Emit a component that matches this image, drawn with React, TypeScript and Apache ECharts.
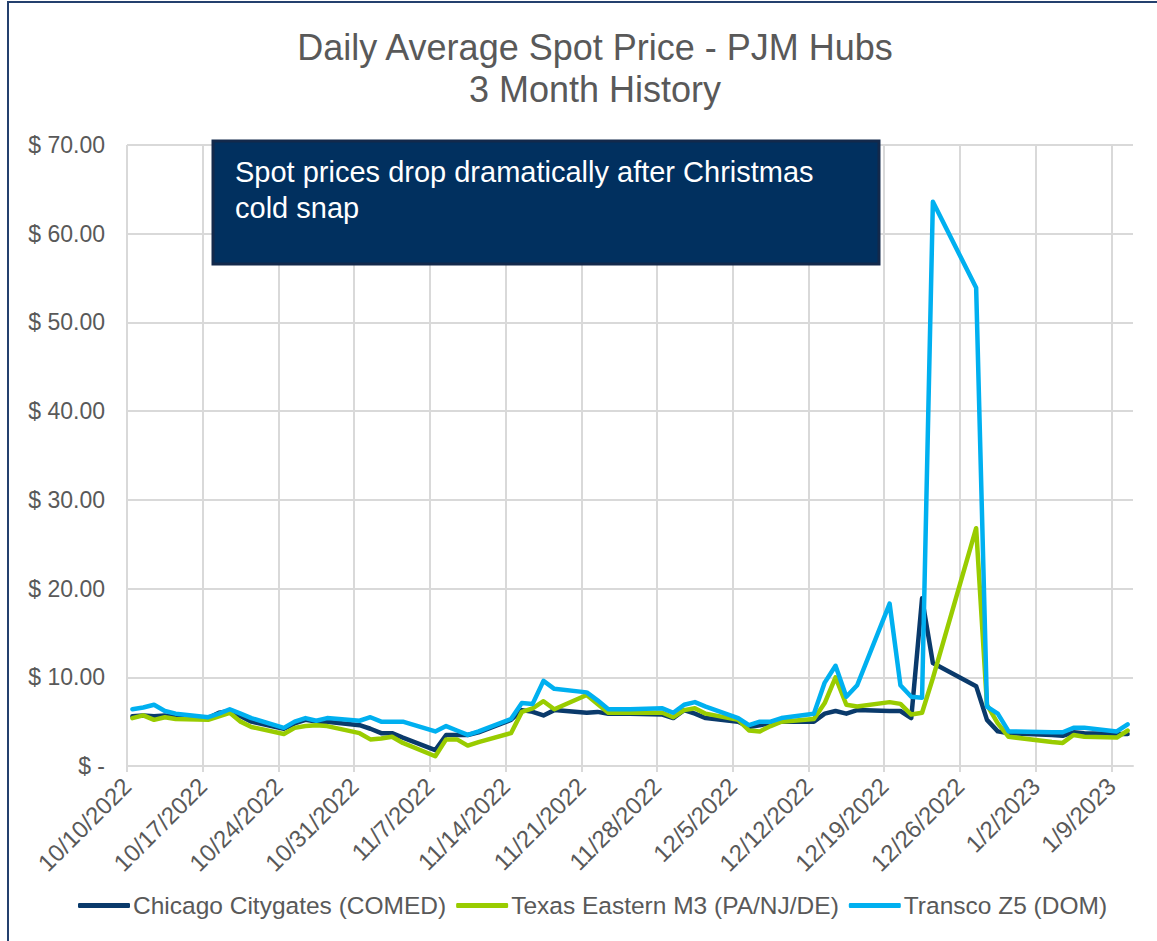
import { useEffect, useRef } from "react";
import * as echarts from "echarts";

const START_DATE = "2022-10-10";

const dates = [
  "2022-10-10", "2022-10-11", "2022-10-12", "2022-10-13", "2022-10-14",
  "2022-10-17", "2022-10-18", "2022-10-19", "2022-10-20", "2022-10-21",
  "2022-10-24", "2022-10-25", "2022-10-26", "2022-10-27", "2022-10-28",
  "2022-10-31", "2022-11-01", "2022-11-02", "2022-11-03", "2022-11-04",
  "2022-11-07", "2022-11-08", "2022-11-09", "2022-11-10", "2022-11-11",
  "2022-11-14", "2022-11-15", "2022-11-16", "2022-11-17", "2022-11-18",
  "2022-11-21", "2022-11-22", "2022-11-23", "2022-11-25",
  "2022-11-28", "2022-11-29", "2022-11-30", "2022-12-01", "2022-12-02",
  "2022-12-05", "2022-12-06", "2022-12-07", "2022-12-08", "2022-12-09",
  "2022-12-12", "2022-12-13", "2022-12-14", "2022-12-15", "2022-12-16",
  "2022-12-19", "2022-12-20", "2022-12-21", "2022-12-22", "2022-12-23",
  "2022-12-27", "2022-12-28", "2022-12-29", "2022-12-30",
  "2023-01-03", "2023-01-04", "2023-01-05", "2023-01-06",
  "2023-01-09", "2023-01-10",
];

const chicagoCitygates = [
  5.6, 5.7, 5.6, 5.7, 5.5,
  5.4, 6.0, 6.2, 5.6, 5.0,
  4.2, 4.8, 5.2, 5.0, 5.0,
  4.6, 4.2, 3.7, 3.7, 3.2,
  1.8, 3.5, 3.5, 3.5, 3.8,
  5.2, 6.3, 6.1, 5.7, 6.3,
  6.0, 6.1, 5.9, 5.9,
  5.8, 5.4, 6.3, 5.9, 5.4,
  5.0, 4.4, 4.6, 4.8, 5.0,
  5.0, 5.9, 6.2, 5.9, 6.3,
  6.2, 6.2, 5.4, 18.9, 11.6,
  9.0, 5.2, 3.9, 3.7,
  3.5, 3.4, 3.8, 3.7,
  3.6, 3.6,
];

const texasEasternM3 = [
  5.4, 5.7, 5.2, 5.5, 5.3,
  5.2, 5.6, 6.0, 5.0, 4.4,
  3.6, 4.3, 4.5, 4.6, 4.5,
  3.7, 3.0, 3.1, 3.3, 2.6,
  1.1, 3.0, 3.0, 2.3, 2.7,
  3.7, 6.1, 6.5, 7.3, 6.4,
  8.0, 7.0, 6.0, 6.0,
  6.0, 5.5, 6.3, 6.5, 5.9,
  5.2, 4.0, 3.9, 4.5, 5.0,
  5.3, 7.1, 10.0, 6.9, 6.7,
  7.2, 7.0, 5.8, 6.0, 9.9,
  26.8, 6.9, 4.8, 3.3,
  2.7, 2.6, 3.5, 3.3,
  3.2, 4.0,
];

const transcoZ5 = [
  6.4, 6.6, 6.9, 6.2, 5.9,
  5.5, 5.9, 6.4, 5.9, 5.4,
  4.3, 5.0, 5.4, 5.1, 5.4,
  5.1, 5.5, 5.0, 5.0, 5.0,
  3.9, 4.5, 4.0, 3.5, 3.9,
  5.3, 7.1, 7.0, 9.6, 8.7,
  8.3, 7.4, 6.4, 6.4,
  6.5, 6.0, 6.9, 7.2, 6.7,
  5.4, 4.6, 5.0, 5.0, 5.4,
  5.9, 9.4, 11.3, 7.8, 9.1,
  18.3, 9.1, 7.8, 7.7, 63.6,
  53.9, 6.7, 5.9, 3.9,
  3.8, 3.8, 4.3, 4.3,
  3.9, 4.7,
];

const seriesNames = [
  "Chicago Citygates (COMED)",
  "Texas Eastern M3 (PA/NJ/DE)",
  "Transco Z5 (DOM)",
];
const seriesColors = ["#0A3A6B", "#99CC00", "#00B0F0"];

const titleText = "Daily Average Spot Price - PJM Hubs\n3 Month History";
const noteText = "Spot prices drop dramatically after Christmas\ncold snap";

const DAY_MS = 86400000;
function toUTC(s: string) {
  const [y, m, d] = s.split("-").map(Number);
  return Date.UTC(y, m - 1, d);
}
const startMs = toUTC(START_DATE);
function dayIndex(s: string) {
  return Math.round((toUTC(s) - startMs) / DAY_MS);
}
function fmtDay(v: number) {
  const dt = new Date(startMs + Math.round(v) * DAY_MS);
  return `${dt.getUTCMonth() + 1}/${dt.getUTCDate()}/${dt.getUTCFullYear()}`;
}

const FONT = "'Liberation Sans', Arial, sans-serif";
const GRAY_TEXT = "#595959";
const GRID_GRAY = "#D9D9D9";

export default function App() {
  const ref = useRef<HTMLDivElement>(null);
  useEffect(() => {
    if (!ref.current) return;
    const chart = echarts.init(ref.current, null, { renderer: "svg" });
    const seriesData = [chicagoCitygates, texasEasternM3, transcoZ5];
    // each day occupies one slot on the date axis; points sit in the slot centre
    const maxDay = dayIndex(dates[dates.length - 1]) + 1;
    chart.setOption({
      animation: false,
      backgroundColor: "#ffffff",
      textStyle: { fontFamily: FONT },
      title: {
        text: titleText,
        left: 590,
        top: 21,
        textAlign: "center",
        textStyle: {
          fontFamily: FONT,
          fontSize: 36,
          fontWeight: "normal",
          color: GRAY_TEXT,
          lineHeight: 42,
        },
      },
      legend: {
        data: seriesNames,
        left: 78,
        top: 893,
        icon: "roundRect",
        itemWidth: 52,
        itemHeight: 5,
        itemGap: 10,
        padding: 0,
        textStyle: { fontFamily: FONT, fontSize: 24.5, color: GRAY_TEXT, padding: [0, 0, 0, -2] },
      },
      grid: { left: 127, right: 24, top: 145, bottom: 175, outerBoundsMode: "none" },
      xAxis: {
        type: "value",
        min: 0,
        max: maxDay,
        interval: 7,
        axisLine: { show: true, lineStyle: { color: GRID_GRAY, width: 2 } },
        axisTick: { show: true, length: 6, lineStyle: { color: GRID_GRAY, width: 2 } },
        splitLine: { show: true, showMaxLine: false, lineStyle: { color: GRID_GRAY, width: 2 } },
        axisLabel: {
          rotate: 45,
          margin: 16,
          fontSize: 24,
          color: GRAY_TEXT,
          fontFamily: FONT,
          showMaxLabel: false,
          formatter: (v: number) => fmtDay(v),
        },
      },
      yAxis: {
        type: "value",
        min: 0,
        max: 70,
        interval: 10,
        axisLine: { show: false },
        axisTick: { show: false },
        splitLine: { show: true, lineStyle: { color: GRID_GRAY, width: 2 } },
        axisLabel: {
          margin: 22,
          fontSize: 23,
          color: GRAY_TEXT,
          fontFamily: FONT,
          formatter: (v: number) => (v === 0 ? "$ -" : "$ " + v.toFixed(2)),
        },
      },
      series: seriesNames.map((name, si) => ({
        name,
        type: "line",
        showSymbol: false,
        symbol: "none",
        color: seriesColors[si],
        lineStyle: { width: 4.5, color: seriesColors[si], cap: "round", join: "round" },
        data: dates.map((d, i) => [dayIndex(d) + 0.5, seriesData[si][i]]),
        z: 2 + si,
      })),
      graphic: [
        {
          type: "rect",
          silent: true,
          z: 100,
          shape: { x: 8, y: 2, width: 1400, height: 1200 },
          style: { fill: "none", stroke: "#24406E", lineWidth: 2 },
        },
        {
          type: "rect",
          silent: true,
          z: 100,
          shape: { x: 213, y: 141, width: 666, height: 123 },
          style: { fill: "#01305F", stroke: "#13294B", lineWidth: 3 },
        },
        {
          type: "text",
          silent: true,
          z: 101,
          x: 235,
          y: 154,
          style: {
            text: noteText,
            fill: "#ffffff",
            font: `29px ${FONT}`,
            lineHeight: 36,
            verticalAlign: "top",
            align: "left",
          },
        },
      ],
    });
    return () => chart.dispose();
  }, []);
  return (
    <div
      ref={ref}
      style={{ position: "fixed", left: 0, top: 0, width: 1157, height: 941, background: "#fff" }}
    />
  );
}
